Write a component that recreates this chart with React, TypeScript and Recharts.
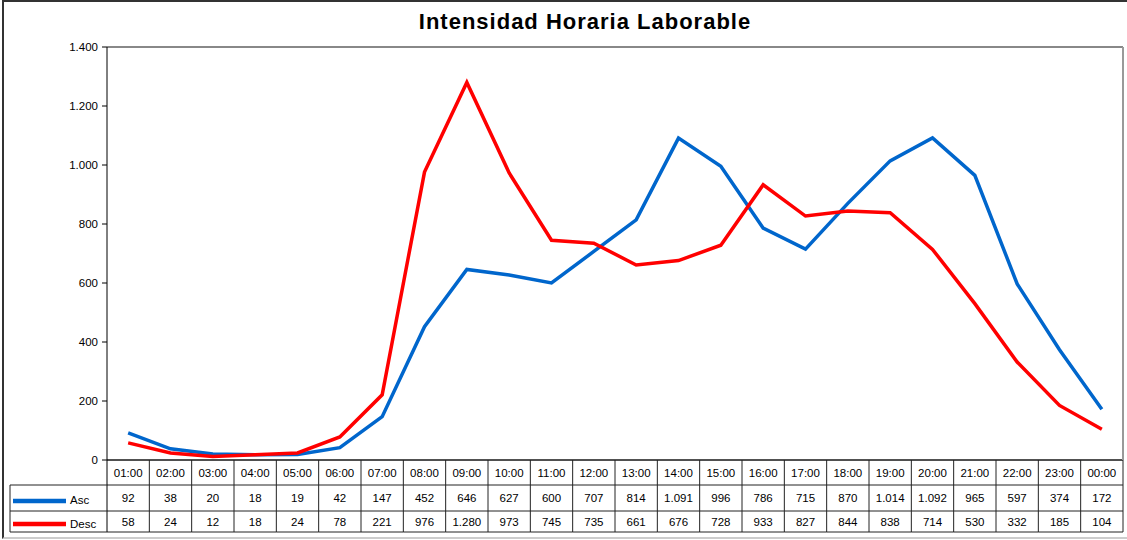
import { LineChart, Line, XAxis, YAxis, CartesianGrid, ReferenceLine } from "recharts";

const hours = [
  "01:00", "02:00", "03:00", "04:00", "05:00", "06:00", "07:00", "08:00",
  "09:00", "10:00", "11:00", "12:00", "13:00", "14:00", "15:00", "16:00",
  "17:00", "18:00", "19:00", "20:00", "21:00", "22:00", "23:00", "00:00",
];
const asc = [92, 38, 20, 18, 19, 42, 147, 452, 646, 627, 600, 707, 814, 1091, 996, 786, 715, 870, 1014, 1092, 965, 597, 374, 172];
const desc = [58, 24, 12, 18, 24, 78, 221, 976, 1280, 973, 745, 735, 661, 676, 728, 933, 827, 844, 838, 714, 530, 332, 185, 104];
const yTicks = [0, 200, 400, 600, 800, 1000, 1200, 1400];

const data = hours.map((h, i) => ({ hour: h, Asc: asc[i], Desc: desc[i] }));

const FONT = "'Liberation Sans', Arial, sans-serif";
const PLOT_LEFT = 107;
const PLOT_RIGHT = 1123;
const COL_W = (PLOT_RIGHT - PLOT_LEFT) / hours.length;
// table rows
const T0 = 460;
const T1 = 485;
const T2 = 511;
const T3 = 532;
const LABEL_LEFT = 10;

const fmt = (v: number) => String(v).replace(/\B(?=(\d{3})+(?!\d))/g, ".");

const TableTick = (props: any) => {
  const { x, payload } = props;
  const i = payload.index ?? props.index;
  const left = x - COL_W / 2;
  const right = x + COL_W / 2;
  const txt = { fontFamily: FONT, fontSize: 11.5, fill: "#000" };
  return (
    <g>
      <line x1={right} y1={T0} x2={right} y2={T3} stroke="#222" />
      <line x1={left} y1={T1} x2={right} y2={T1} stroke="#222" />
      <line x1={left} y1={T2} x2={right} y2={T2} stroke="#222" />
      <line x1={left} y1={T3} x2={right} y2={T3} stroke="#222" />
      {i === 0 && (
        <g>
          <line x1={left} y1={T0} x2={left} y2={T3} stroke="#000" />
          <line x1={LABEL_LEFT} y1={T1} x2={left} y2={T1} stroke="#222" />
          <line x1={LABEL_LEFT} y1={T2} x2={left} y2={T2} stroke="#222" />
          <line x1={LABEL_LEFT} y1={T3} x2={left} y2={T3} stroke="#222" />
          <line x1={LABEL_LEFT} y1={T1} x2={LABEL_LEFT} y2={T3} stroke="#222" />
          <line x1={13} y1={501} x2={66} y2={501} stroke="#0066cc" strokeWidth={4.5} />
          <text x={70} y={(T1 + T2) / 2 + 2} dy="0.35em" {...txt}>Asc</text>
          <line x1={13} y1={524} x2={66} y2={524} stroke="#ff0000" strokeWidth={4.5} />
          <text x={70} y={(T2 + T3) / 2 + 2} dy="0.35em" {...txt}>Desc</text>
        </g>
      )}
      <text x={x} y={(T0 + T1) / 2} dy="0.35em" textAnchor="middle" {...txt}>{payload.value}</text>
      <text x={x} y={(T1 + T2) / 2} dy="0.35em" textAnchor="middle" {...txt}>{fmt(asc[i])}</text>
      <text x={x} y={(T2 + T3) / 2} dy="0.35em" textAnchor="middle" {...txt}>{fmt(desc[i])}</text>
    </g>
  );
};

const App = () => {
  return (
    <div style={{ position: "absolute", left: 0, top: 0, width: 1127, height: 540, background: "#fff", fontFamily: FONT }}>
      <div
        style={{
          position: "absolute", left: 2, top: 0, width: 1130, height: 535,
          borderTop: "2px solid #333", borderLeft: "2px solid #333", borderBottom: "2px solid #ccc",
        }}
      />
      <div
        style={{
          position: "absolute", left: 335, top: 9, width: 500, textAlign: "center",
          fontSize: 22, fontWeight: "bold", lineHeight: "26px", color: "#000", letterSpacing: 1,
        }}
      >
        Intensidad Horaria Laborable
      </div>
      <div style={{ position: "absolute", left: 0, top: 0 }}>
        <LineChart width={1127} height={540} data={data} margin={{ top: 47, right: 3, bottom: 0, left: 0 }}>
          <CartesianGrid vertical={false} stroke="#444" />
          <XAxis
            dataKey="hour"
            scale="band"
            height={80}
            axisLine={{ stroke: "#000" }}
            tickLine={false}
            tick={<TableTick />}
            interval={0}
          />
          <YAxis
            yAxisId="left"
            width={107}
            domain={[0, 1400]}
            ticks={yTicks}
            tickFormatter={fmt}
            axisLine={{ stroke: "#000" }}
            tickLine={{ stroke: "#000" }}
            tickSize={5}
            tickMargin={4}
            tick={{ fontFamily: FONT, fontSize: 11.5, fill: "#000" }}
          />
          <YAxis
            yAxisId="right"
            orientation="right"
            width={1}
            domain={[0, 1400]}
            tick={false}
            tickLine={false}
            axisLine={{ stroke: "#999", strokeWidth: 2 }}
          />
          <ReferenceLine yAxisId="left" y={1400} stroke="#888" strokeWidth={2} />
          <Line yAxisId="left" type="linear" dataKey="Asc" stroke="#0066cc" strokeWidth={3.5} dot={false} isAnimationActive={false} />
          <Line yAxisId="left" type="linear" dataKey="Desc" stroke="#ff0000" strokeWidth={3.5} dot={false} isAnimationActive={false} />
        </LineChart>
      </div>
    </div>
  );
};

export default App;
